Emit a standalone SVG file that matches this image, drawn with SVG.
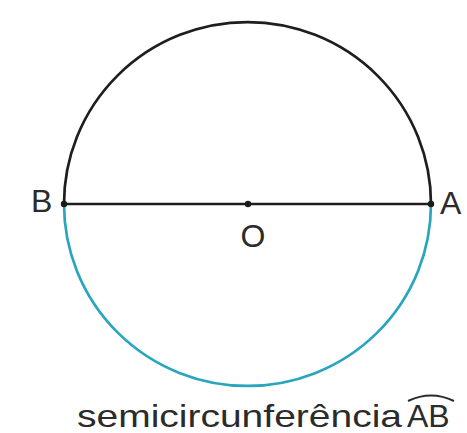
<svg xmlns="http://www.w3.org/2000/svg" width="467" height="433" viewBox="0 0 467 433">
<style>
.lbl{font-family:"Liberation Sans",Arial,sans-serif;font-size:32px;fill:#2b2b2b}
.dot{fill:#1a1a1a}
</style>
<rect width="467" height="433" fill="#ffffff"/>
<g id="connectors">
<path id="upper-arc" d="M64,204 A183.5,182 0 0 1 431,204" fill="none" stroke="#1e1e1e" stroke-width="2.7"/>
<path id="lower-arc" d="M431,204 A183.5,182 0 0 1 64,204" fill="none" stroke="#2aa5bf" stroke-width="2.7"/>
<line id="diameter" x1="64" y1="204" x2="431" y2="204" stroke="#1e1e1e" stroke-width="2.7"/>
</g>
<g id="node-B"><circle class="dot" cx="64" cy="204" r="3.2"/><text class="lbl" x="31" y="212">B</text></g>
<g id="node-A"><circle class="dot" cx="431" cy="204" r="3.2"/><text class="lbl" x="440" y="214">A</text></g>
<g id="node-O"><circle class="dot" cx="248" cy="204" r="3.2"/><text class="lbl" x="253" y="247" text-anchor="middle">O</text></g>
<g id="caption">
<text class="lbl" x="77" y="427" font-size="33" textLength="325" lengthAdjust="spacingAndGlyphs">semicircunferência</text>
<text class="lbl" x="407" y="427" font-size="33">AB</text>
<path d="M408,401 Q431,390 454,401" fill="none" stroke="#2b2b2b" stroke-width="2"/>
</g>
</svg>
